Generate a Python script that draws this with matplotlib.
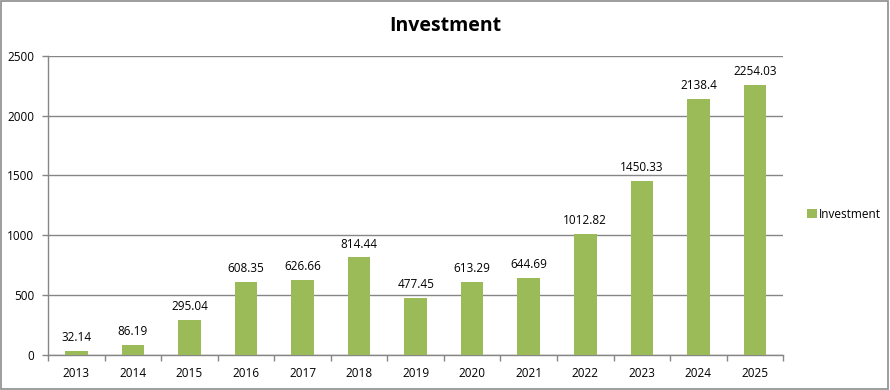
import matplotlib
matplotlib.use('Agg')
import matplotlib.pyplot as plt
import numpy as np

years = ['2013', '2014', '2015', '2016', '2017', '2018', '2019',
         '2020', '2021', '2022', '2023', '2024', '2025']
investment = [32.14, 86.19, 295.04, 608.35, 626.66, 814.44, 477.45,
              613.29, 644.69, 1012.82, 1450.33, 2138.4, 2254.03]
yticks = [0, 500, 1000, 1500, 2000, 2500]

plt.rcParams['font.family'] = ['Open Sans', 'DejaVu Sans']

fig = plt.figure(figsize=(8.9, 3.9), dpi=100)
# outer border like the excel chart frame
fig.patches.append(plt.Rectangle((0.001, 0.003), 0.997, 0.995, transform=fig.transFigure,
                                 fill=False, edgecolor='#8c8c8c', linewidth=1.2))
ax = fig.add_axes([0.054, 0.09, 0.826, 0.767])

x = np.arange(len(years))
bars = ax.bar(x, investment, width=0.4, color='#9bbb59', zorder=3, label='Investment')

for xi, v in zip(x, investment):
    ax.annotate(f'{v:g}', (xi, v), xytext=(0, 5), textcoords='offset points',
                ha='center', va='bottom', fontsize=8.5)

ax.set_xlim(-0.5, len(years) - 0.5)
ax.set_ylim(0, 2500)
ax.set_yticks(yticks)
ax.set_yticklabels([str(t) for t in yticks], fontsize=8.5)
ax.set_xticks(x)
ax.set_xticklabels(years, fontsize=8.5)
ax.set_xticks(np.arange(-0.5, len(years)), minor=True)
ax.tick_params(axis='x', which='major', length=0, pad=9)
ax.tick_params(axis='x', which='minor', length=4, color='#868686', width=1)
ax.tick_params(axis='y', length=4, color='#868686', width=1, pad=6)

ax.yaxis.grid(True, color='#868686', linewidth=1, zorder=0)
for s in ['top', 'right']:
    ax.spines[s].set_visible(False)
for s in ['left', 'bottom']:
    ax.spines[s].set_color('#868686')
    ax.spines[s].set_linewidth(1)

fig.suptitle('Investment', x=0.5, y=0.96, fontsize=14, fontweight='bold')

fig.legend(handles=[bars], labels=['Investment'], loc='center left',
           bbox_to_anchor=(0.895, 0.45), frameon=False, fontsize=8.5,
           handlelength=0.8, handleheight=0.8, handletextpad=0.2)

fig.savefig('out.png', dpi=100)
